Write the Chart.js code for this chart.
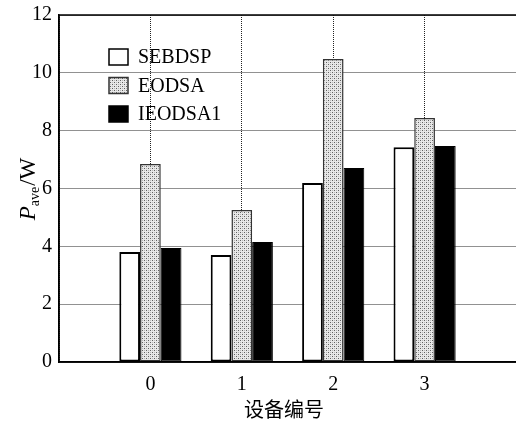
<!DOCTYPE html>
<html>
<head>
<meta charset="utf-8">
<script src="https://cdn.jsdelivr.net/npm/chart.js@4.4.1/dist/chart.umd.min.js"></script>
<style>
html,body{margin:0;padding:0;background:#fff;}
#wrap{width:516px;height:421px;position:relative;}
</style>
</head>
<body>
<div id="wrap"><canvas id="c" width="516" height="421"></canvas></div>
<script>
const categories = ['', '0', '1', '2', '3', ''];
const seriesNames = ['SEBDSP', 'EODSA', 'IEODSA1'];
const sebdsp = [null, 3.80, 3.70, 6.19, 7.43, null];
const eodsa = [null, 6.85, 5.26, 10.48, 8.44, null];
const ieodsa1 = [null, 3.94, 4.15, 6.71, 7.47, null];
const yTicks = [0, 2, 4, 6, 8, 10, 12];
const xTitle = '设备编号';

function makePattern() {
  const p = document.createElement('canvas');
  p.width = 4; p.height = 4;
  const g = p.getContext('2d');
  g.fillStyle = '#e8e8e8';
  g.fillRect(0, 0, 4, 4);
  g.fillStyle = '#606060';
  g.fillRect(0, 0, 1, 1);
  g.fillRect(2, 2, 1, 1);
  g.fillStyle = '#b8b8b8';
  g.fillRect(2, 0, 1, 1);
  g.fillRect(0, 2, 1, 1);
  return document.getElementById('c').getContext('2d').createPattern(p, 'repeat');
}
const dotPattern = makePattern();

const serif = '"Liberation Serif", "Times New Roman", serif';

const overlay = {
  id: 'overlay',
  afterDraw(chart) {
    const ctx = chart.ctx;
    const a = chart.chartArea;
    ctx.save();
    // frame
    ctx.strokeStyle = '#000';
    ctx.lineWidth = 1.5;
    ctx.strokeRect(a.left, a.top, a.right - a.left + 2, a.bottom - a.top);
    // legend
    const ds = chart.data.datasets;
    ctx.font = '20px ' + serif;
    ctx.textBaseline = 'middle';
    ds.forEach((d, i) => {
      const y = 57 + i * 28.5;
      ctx.fillStyle = d.backgroundColor;
      ctx.fillRect(109, y - 8, 19, 16);
      ctx.strokeStyle = d.borderColor;
      ctx.lineWidth = 1.5;
      ctx.strokeRect(109, y - 8, 19, 16);
      ctx.fillStyle = '#000';
      ctx.fillText(d.label, 138, y + 1);
    });
    // y title
    ctx.translate(27, 189);
    ctx.rotate(-Math.PI / 2);
    ctx.textBaseline = 'alphabetic';
    ctx.textAlign = 'left';
    const p1 = 'P', sub = 'ave', p2 = '/W';
    ctx.font = 'italic 23px ' + serif;
    const w1 = ctx.measureText(p1).width;
    ctx.font = '14px ' + serif;
    const w2 = ctx.measureText(sub).width;
    ctx.font = '23px ' + serif;
    const w3 = ctx.measureText(p2).width;
    let x = -(w1 + w2 + w3 + 1) / 2;
    ctx.font = 'italic 23px ' + serif;
    ctx.fillText(p1, x, 8); x += w1;
    ctx.font = '14px ' + serif;
    ctx.fillText(sub, x, 12); x += w2 + 1;
    ctx.font = '23px ' + serif;
    ctx.fillText(p2, x, 8);
    ctx.restore();
    // x title
    ctx.save();
    ctx.font = '20px "Noto Sans CJK SC", sans-serif';
    ctx.fillStyle = '#000';
    ctx.textAlign = 'center';
    ctx.textBaseline = 'middle';
    ctx.fillText(xTitle, 284, 409);
    ctx.restore();
  }
};

new Chart(document.getElementById('c'), {
  type: 'bar',
  data: {
    labels: categories,
    datasets: [
      { label: seriesNames[0], data: sebdsp, backgroundColor: '#ffffff', borderColor: '#000000', borderWidth: 2, borderSkipped: false },
      { label: seriesNames[1], data: eodsa, backgroundColor: dotPattern, borderColor: '#333333', borderWidth: 1.5, borderSkipped: false },
      { label: seriesNames[2], data: ieodsa1, backgroundColor: '#000000', borderColor: '#000000', borderWidth: 1, borderSkipped: false }
    ]
  },
  options: {
    responsive: false,
    animation: false,
    layout: { padding: { top: 15, right: 0, left: 0, bottom: 0 } },
    plugins: { legend: { display: false }, tooltip: { enabled: false } },
    datasets: { bar: { barPercentage: 1.0, categoryPercentage: 0.68 } },
    scales: {
      x: {
        type: 'category',
        offset: false,
        grid: { color: '#222', lineWidth: 1, drawTicks: false, offset: false },
        border: { color: '#000', width: 1.5, dash: [1, 1] },
        ticks: { color: '#000', font: { family: serif, size: 20 }, padding: 11, maxRotation: 0, autoSkip: false },
        afterFit(s) { s.height = 59; s.paddingLeft = 0; s.paddingRight = 0; }
      },
      y: {
        min: 0, max: 12,
        afterBuildTicks(s) { s.ticks = yTicks.map(v => ({ value: v })); },
        grid: { color: '#222', lineWidth: 1, drawTicks: false },
        border: { color: '#000', width: 1.5, dash: [1, 1] },
        ticks: { color: '#000', font: { family: serif, size: 20 }, padding: 7 },
        afterFit(s) { s.width = 59; s.paddingTop = 0; s.paddingBottom = 0; }
      }
    }
  },
  plugins: [overlay]
});
</script>
</body>
</html>
